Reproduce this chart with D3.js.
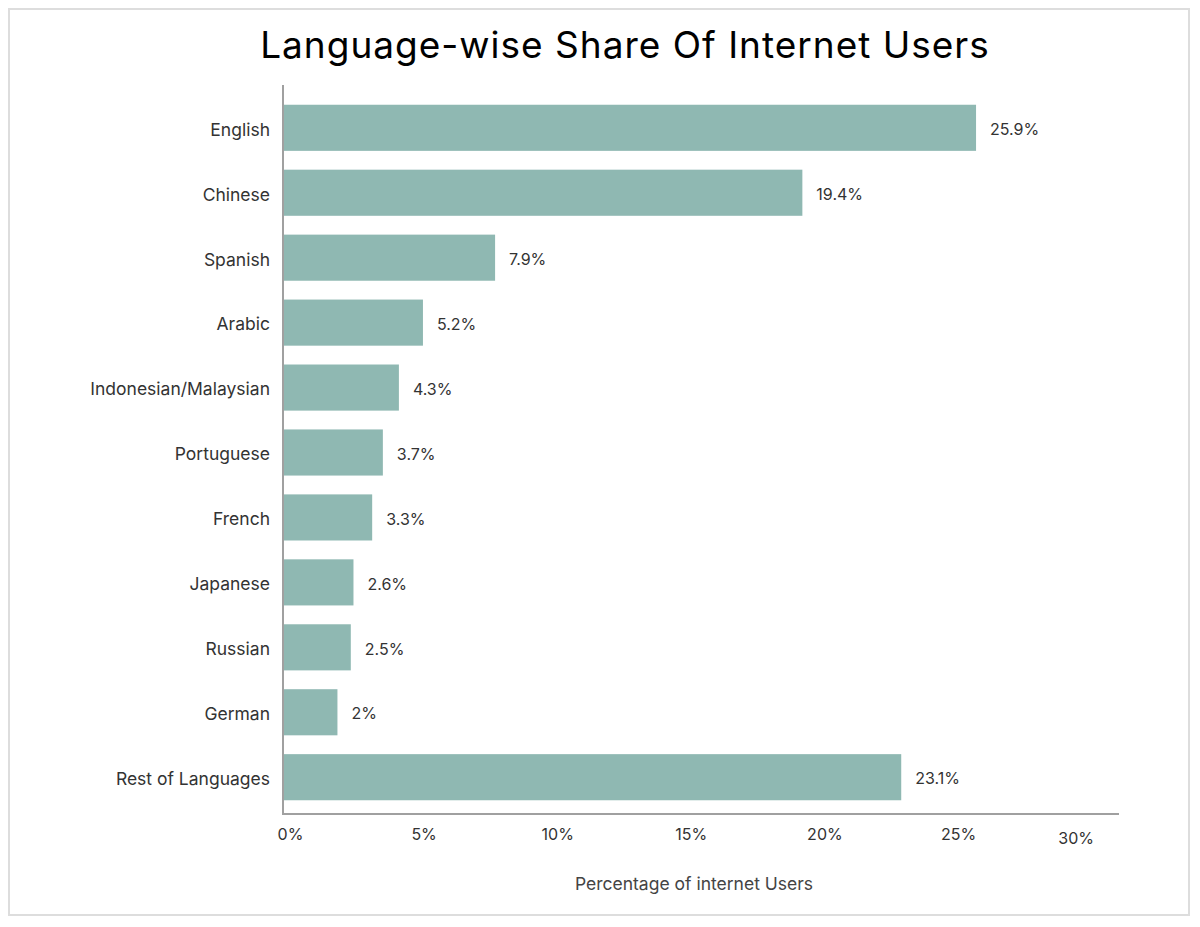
<!DOCTYPE html>
<html>
<head>
<meta charset="utf-8">
<script src="https://cdn.jsdelivr.net/npm/d3@7"></script>
<style>
  html, body { margin: 0; padding: 0; background: #fff; }
  svg { display: block; }
</style>
</head>
<body>
<script>
const categories = ["English", "Chinese", "Spanish", "Arabic", "Indonesian/Malaysian", "Portuguese", "French", "Japanese", "Russian", "German", "Rest of Languages"];
const values = [25.9, 19.4, 7.9, 5.2, 4.3, 3.7, 3.3, 2.6, 2.5, 2, 23.1];
const valueLabels = ["25.9%", "19.4%", "7.9%", "5.2%", "4.3%", "3.7%", "3.3%", "2.6%", "2.5%", "2%", "23.1%"];
const tickValues = [0, 5, 10, 15, 20, 25, 30];
const tickLabels = ["0%", "5%", "10%", "15%", "20%", "25%", "30%"];
const title = "Language-wise Share Of Internet Users";
const xTitle = "Percentage of internet Users";

const W = 1200, H = 927;
const font = "Inter, 'Noto Sans', sans-serif";
const svg = d3.select("body").append("svg").attr("width", W).attr("height", H);

svg.append("rect").attr("x", 9).attr("y", 9).attr("width", 1180).attr("height", 906)
  .attr("fill", "#fff").attr("stroke", "#dddddd").attr("stroke-width", 2);

svg.append("text").attr("x", 625).attr("y", 58).attr("text-anchor", "middle")
  .attr("font-family", font).attr("font-size", 37).attr("letter-spacing", 1)
  .attr("fill", "#000").text(title);

const x = d3.scaleLinear().domain([0, 30]).range([284, 284 + 30 * 26.72]);
const y = d3.scaleBand().domain(categories).range([95, 810]).paddingInner(0.29).paddingOuter(0.15);

const data = categories.map((c, i) => ({ c, v: values[i], l: valueLabels[i] }));

svg.append("g").selectAll("rect").data(data).join("rect")
  .attr("x", x(0)).attr("y", d => y(d.c))
  .attr("width", d => x(d.v) - x(0)).attr("height", y.bandwidth())
  .attr("fill", "#8fb8b2");

svg.append("g").selectAll("text").data(data).join("text")
  .attr("x", d => x(d.v) + 14).attr("y", d => y(d.c) + y.bandwidth() / 2)
  .attr("dy", "0.45em").attr("font-family", font).attr("font-size", 16)
  .attr("fill", "#333").text(d => d.l);

// y axis
const yAxis = svg.append("g").attr("transform", "translate(283,0)")
  .call(d3.axisLeft(y).tickSize(0).tickPadding(13));
yAxis.select(".domain").remove();
yAxis.selectAll("text").attr("font-family", font).attr("font-size", 17.5)
  .attr("dy", "0.45em").attr("fill", "#333");
svg.append("line").attr("x1", 283).attr("x2", 283).attr("y1", 85).attr("y2", 814)
  .attr("stroke", "#a0a0a0").attr("stroke-width", 2);

// x axis
const xAxis = svg.append("g").attr("transform", "translate(6,822)")
  .call(d3.axisBottom(x).tickValues(tickValues).tickSize(0).tickPadding(7)
    .tickFormat((d, i) => tickLabels[i]));
xAxis.select(".domain").remove();
xAxis.selectAll("text").attr("font-family", font).attr("font-size", 16).attr("fill", "#333");
xAxis.selectAll(".tick").filter(d => d === 30).select("text")
  .attr("x", -16).attr("y", 11);
svg.append("line").attr("x1", 282).attr("x2", 1119).attr("y1", 814).attr("y2", 814)
  .attr("stroke", "#a0a0a0").attr("stroke-width", 2);

svg.append("text").attr("x", 694).attr("y", 890).attr("text-anchor", "middle")
  .attr("font-family", font).attr("font-size", 17.5).attr("fill", "#444").text(xTitle);
</script>
</body>
</html>
